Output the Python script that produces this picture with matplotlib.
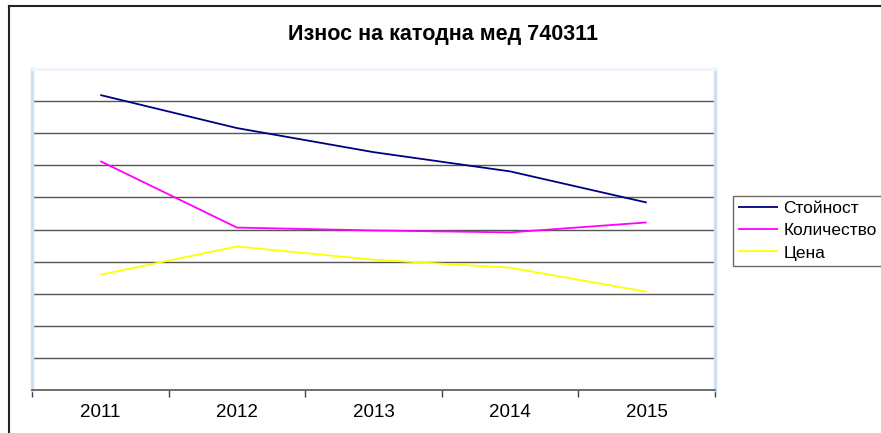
import matplotlib
matplotlib.use("Agg")
import matplotlib.pyplot as plt
from matplotlib.lines import Line2D
import numpy as np

plt.rcParams['font.family'] = ['Liberation Sans', 'DejaVu Sans']

years = ['2011', '2012', '2013', '2014', '2015']
stoynost = [9.19, 8.16, 7.41, 6.81, 5.84]
kolichestvo = [7.13, 5.06, 4.97, 4.91, 5.22]
tsena = [3.59, 4.47, 4.06, 3.81, 3.06]
series_names = ['Стойност', 'Количество', 'Цена']
series_colors = ['#000080', '#ff00ff', '#ffff00']

W, H = 881, 433
fig = plt.figure(figsize=(W / 100, H / 100), dpi=100)
fig.patch.set_facecolor('white')

# figure border (top and left)
fig.add_artist(Line2D([9 / W, 1.0], [1 - 6 / H, 1 - 6 / H], color='#222222', lw=1.5,
                      transform=fig.transFigure))
fig.add_artist(Line2D([9 / W, 9 / W], [0.0, 1 - 6 / H], color='#222222', lw=1.5,
                      transform=fig.transFigure))

left, right, top, bottom = 32, 715, 69, 390
ax = fig.add_axes([left / W, (H - bottom) / H, (right - left) / W, (bottom - top) / H])

x = np.arange(len(years))
for vals, name, col in zip([stoynost, kolichestvo, tsena], series_names, series_colors):
    ax.plot(x, vals, color=col, lw=1.3, label=name, solid_capstyle='butt')

ax.set_xlim(-0.5, len(years) - 0.5)
ax.set_ylim(0, 10)
ax.set_yticks(np.arange(1, 10))
ax.yaxis.grid(True, color='#555555', lw=1.0)
ax.set_axisbelow(True)
ax.tick_params(axis='y', left=False, labelleft=False)

ax.set_xticks(x)
ax.set_xticklabels(years, fontsize=13.5)
ax.set_xticks(np.arange(-0.5, len(years)), minor=True)
ax.tick_params(axis='x', which='major', length=0, pad=10)
ax.tick_params(axis='x', which='minor', length=5, width=1, color='#444444', direction='out')

for side in ['left', 'right']:
    ax.spines[side].set_color('#cfe0f3')
    ax.spines[side].set_linewidth(2.5)
ax.spines['top'].set_color('#eef4fb')
ax.spines['top'].set_linewidth(2)
ax.spines['bottom'].set_color('#555555')
ax.spines['bottom'].set_linewidth(1.2)

fig.text(0.5 * (288 + 599) / W, 1 - 34.5 / H, 'Износ на катодна мед 740311',
         ha='center', va='center', fontsize=15.5, fontweight='bold')

leg = fig.legend(loc='upper left', bbox_to_anchor=(733 / W, 1 - 196 / H),
                 fontsize=12.5, frameon=True, fancybox=False, edgecolor='#444444',
                 handlelength=2.3, handletextpad=0.3, borderpad=0.3,
                 labelspacing=0.4, borderaxespad=0)
leg.get_frame().set_linewidth(1.0)

fig.savefig('out.png', dpi=100, facecolor='white')
